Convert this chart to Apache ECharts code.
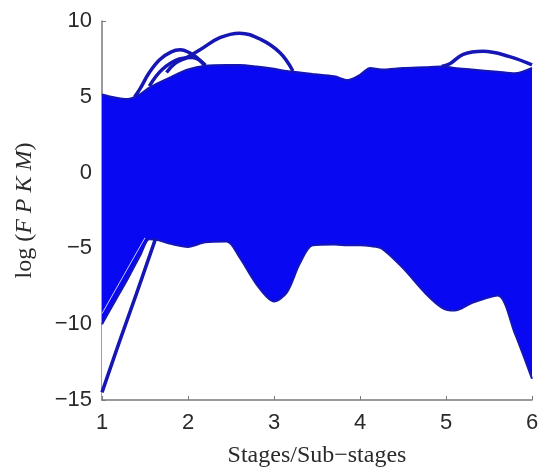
<!DOCTYPE html>
<html>
<head>
<meta charset="utf-8">
<script src="https://cdn.jsdelivr.net/npm/echarts@6/dist/echarts.min.js"></script>
<style>
    html, body { margin: 0; padding: 0; background: #fff; }
    #main { width: 540px; height: 469px; }
</style>
</head>
<body>
<div id="main"></div>
<script>
'use strict';

// stage positions shared by both edges of the expression mass
const stages = [1, 1.15, 1.3, 1.45, 1.55, 1.65, 1.8, 2.0, 2.2, 2.45, 2.6, 2.8, 3.0, 3.15, 3.3,
    3.45, 3.7, 3.86, 4.0, 4.12, 4.25, 4.5, 4.75, 4.95, 5.1, 5.3, 5.6, 5.8, 6.0];
const upperEdge = [5.15, 4.95, 4.85, 5.2, 5.6, 5.9, 6.3, 6.8, 7.05, 7.1, 7.1, 7.0, 6.85, 6.7, 6.6,
    6.5, 6.35, 6.1, 6.45, 6.9, 6.8, 6.9, 6.95, 7.0, 6.9, 6.8, 6.65, 6.55, 6.9];
const lowerEdge = [-10.0, -8.5, -7.0, -5.4, -4.4, -4.45, -4.7, -4.9, -4.6, -4.55, -5.6, -7.4, -8.5, -7.9, -6.0,
    -4.8, -4.75, -4.8, -4.8, -4.85, -5.0, -6.3, -7.9, -8.9, -9.1, -8.6, -8.1, -10.6, -13.6];

// single genes that leave the mass
const geneLow = [[1, -14.5], [1.2, -11.2], [1.4, -8.0], [1.62, -4.4]];
const geneArcA = [[1.38, 5.0], [1.44, 5.5], [1.55, 6.6], [1.67, 7.45], [1.8, 7.95], [1.91, 8.1],
    [2.02, 7.9], [2.1, 7.6], [2.2, 7.05]];
const geneArcA2 = [[1.55, 5.7], [1.7, 6.8], [1.9, 7.5], [2.05, 7.6], [2.2, 7.1]];
const geneArcB = [[1.75, 6.6], [1.85, 7.2], [1.99, 7.6], [2.14, 8.1], [2.37, 8.9], [2.6, 9.2],
    [2.84, 8.8], [3.07, 7.9], [3.22, 6.7]];
const geneArcC = [[4.95, 7.0], [5.05, 7.2], [5.2, 7.8], [5.43, 8.0], [5.74, 7.65], [6.0, 7.1]];
// thin gap between bundles near the lower-left edge
const gapLine = [[1.0, -9.3], [1.25, -6.8], [1.5, -4.3]];

const massColor = '#0808f2';
const edgeColor = '#1616b4';
const axisGray = '#7a7a7a';

const chart = echarts.init(document.getElementById('main'));

function geneSeries(points) {
    return {
        type: 'line',
        data: points,
        smooth: 0.4,
        symbol: 'none',
        z: 5,
        lineStyle: { color: edgeColor, width: 3.5 }
    };
}

const option = {
    animation: false,
    grid: {
        left: 102,
        right: 8,
        top: 21,
        bottom: 69,
        outerBoundsMode: 'none'
    },
    xAxis: {
        type: 'value',
        min: 1,
        max: 6,
        interval: 1,
        z: 10,
        name: 'Stages/Sub\u2212stages',
        nameLocation: 'middle',
        nameGap: 44,
        nameTextStyle: {
            fontFamily: 'Liberation Serif',
            fontSize: 24,
            color: '#2a2a2a'
        },
        axisLine: { onZero: false, lineStyle: { color: axisGray, width: 1.5 } },
        axisTick: { inside: true, length: 4, lineStyle: { color: axisGray } },
        axisLabel: {
            margin: 12,
            fontFamily: 'Liberation Sans',
            fontSize: 22,
            color: '#2a2a2a'
        },
        splitLine: { show: false }
    },
    yAxis: {
        type: 'value',
        min: -15,
        max: 10,
        interval: 5,
        name: '{r|log (}{i|F P K M}{r|)}',
        nameLocation: 'middle',
        nameGap: 65,
        nameTextStyle: {
            rich: {
                r: { fontFamily: 'Liberation Serif', fontSize: 24, color: '#2a2a2a' },
                i: { fontFamily: 'Liberation Serif', fontStyle: 'italic', fontSize: 24, color: '#2a2a2a' }
            }
        },
        axisLine: { show: true, onZero: false, lineStyle: { color: axisGray, width: 1.5 } },
        axisTick: { show: true, inside: true, length: 4, lineStyle: { color: axisGray } },
        axisLabel: {
            margin: 10,
            fontFamily: 'Liberation Sans',
            fontSize: 22,
            color: '#2a2a2a',
            formatter: v => String(v).replace('-', '\u2212')
        },
        splitLine: { show: false }
    },
    series: [
        {
            // top of the mass, filled down to the axis
            type: 'line',
            data: stages.map((x, i) => [x, upperEdge[i]]),
            smooth: 0.3,
            symbol: 'none',
            z: 2,
            lineStyle: { color: edgeColor, width: 2 },
            areaStyle: { color: massColor, opacity: 1, origin: 'start' }
        },
        {
            // bottom of the mass, white below it
            type: 'line',
            data: stages.map((x, i) => [x, lowerEdge[i]]),
            smooth: 0.3,
            symbol: 'none',
            z: 3,
            lineStyle: { color: edgeColor, width: 2 },
            areaStyle: { color: '#ffffff', opacity: 1, origin: 'start' }
        },
        {
            type: 'line',
            data: gapLine,
            symbol: 'none',
            z: 4,
            lineStyle: { color: '#c8c8ff', width: 1 }
        },
        geneSeries(geneLow),
        geneSeries(geneArcA),
        geneSeries(geneArcA2),
        geneSeries(geneArcB),
        geneSeries(geneArcC)
    ]
};

chart.setOption(option);
</script>
</body>
</html>
